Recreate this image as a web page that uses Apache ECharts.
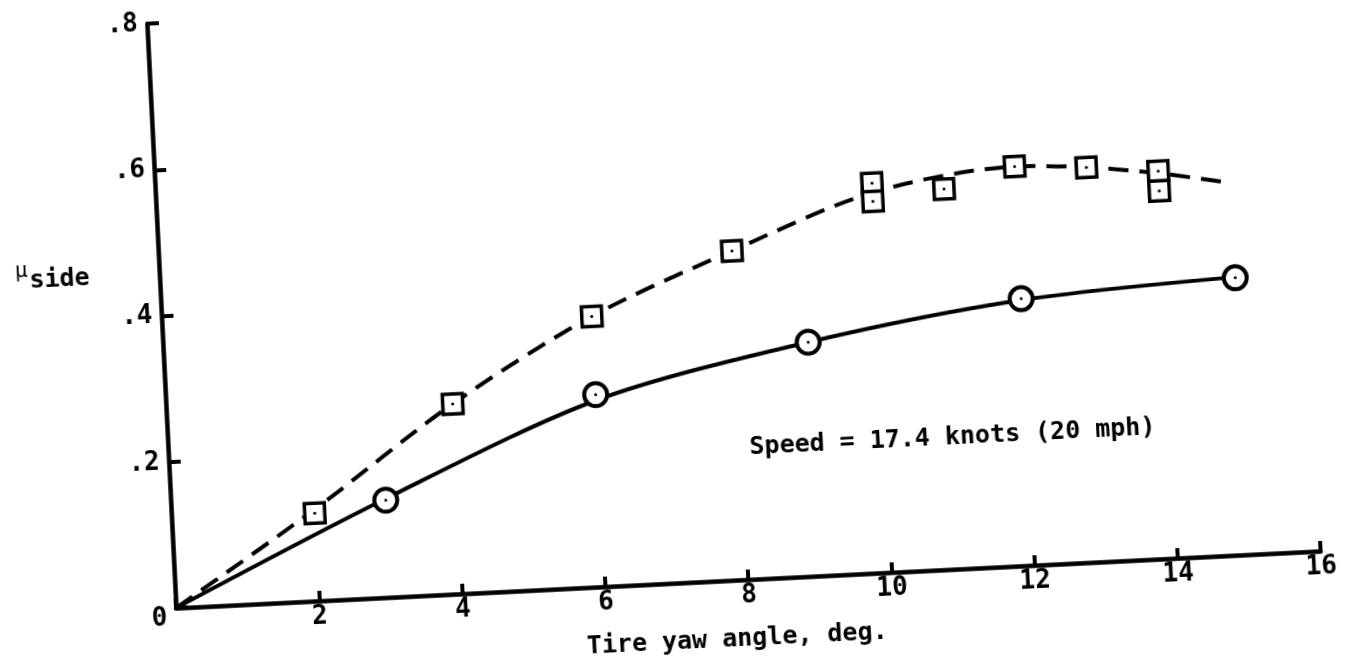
<!DOCTYPE html>
<html>
<head>
<meta charset="utf-8">
<script src="https://cdn.jsdelivr.net/npm/echarts/dist/echarts.min.js"></script>
<style>
html,body{margin:0;padding:0;background:#fff;overflow:hidden;width:1352px;height:666px;}
/* the scanned figure is tilted a bit, so the whole chart is turned round its origin */
#chart{position:absolute;left:0;top:0;width:1400px;height:740px;transform-origin:176px 608px;transform:rotate(-2.85deg);}
</style>
</head>
<body>
<div id="chart"></div>
<script>
// test points, squares (dashed fairing)
var squareX = [2, 4, 6, 8, 10, 10, 11, 12, 13, 14, 14];
var squareY = [0.12, 0.26, 0.37, 0.45, 0.533, 0.508, 0.52, 0.546, 0.54, 0.53, 0.503];
// test points, circles (solid fairing)
var circleX = [3, 6, 9, 12, 15];
var circleY = [0.133, 0.263, 0.32, 0.365, 0.379];
// faired curves
var dashX = [0, 2, 4, 6, 8, 10, 12, 13, 14, 15];
var dashY = [0, 0.125, 0.26, 0.37, 0.45, 0.52, 0.546, 0.54, 0.527, 0.509];
var solidX = [0, 3, 6, 9, 12, 15];
var solidY = [0, 0.135, 0.255, 0.32, 0.363, 0.38];
// axes
var xMin = 0, xMax = 16, xStep = 2;
var yMin = 0, yMax = 0.8, yStep = 0.2;

function pairs(xs, ys){
  var out = [];
  for (var i = 0; i < xs.length; i++) out.push([xs[i], ys[i]]);
  return out;
}

var FONT = '"DejaVu Sans Mono", monospace';
var myChart = echarts.init(document.getElementById('chart'));
myChart.setOption({
  animation: false,
  backgroundColor: '#fff',
  grid: { left: 176, top: 23, width: 1146, height: 585 },
  xAxis: {
    type: 'value', min: xMin, max: xMax, interval: xStep,
    axisLine: { lineStyle: { color: '#000', width: 4.5 } },
    axisTick: { inside: true, length: 10, lineStyle: { color: '#000', width: 4 } },
    splitLine: { show: false },
    axisLabel: {
      color: '#000', fontFamily: FONT, fontWeight: 'bold', fontSize: 26, margin: 3,
      formatter: function(v){ return v === 0 ? '' : String(v); }
    }
  },
  yAxis: {
    type: 'value', min: yMin, max: yMax, interval: yStep,
    axisLine: { lineStyle: { color: '#000', width: 4.5 } },
    axisTick: { inside: true, length: 12, lineStyle: { color: '#000', width: 4 } },
    splitLine: { show: false },
    axisLabel: {
      color: '#000', fontFamily: FONT, fontWeight: 'bold', fontSize: 26, margin: 9,
      formatter: function(v){
        if (v === 0) return '{z|0}';
        return String(v.toFixed(1)).replace('0.', '.');
      },
      rich: { z: { fontFamily: FONT, fontWeight: 'bold', fontSize: 26, color: '#000', padding: [20, 0, 0, 0] } }
    }
  },
  graphic: [
    { type: 'text', x: 38, y: 265, style: { text: 'μ', font: '21px ' + FONT, fill: '#000', align: 'center', verticalAlign: 'middle' } },
    { type: 'text', x: 76, y: 274, style: { text: 'side', font: 'bold 25px ' + FONT, fill: '#000', align: 'center', verticalAlign: 'middle' } },
    { type: 'text', x: 735, y: 667, style: { text: 'Tire yaw angle, deg.', font: 'bold 25px ' + FONT, fill: '#000', align: 'center', verticalAlign: 'middle' } },
    { type: 'text', x: 960, y: 476, style: { text: 'Speed = 17.4 knots (20 mph)', font: 'bold 25px ' + FONT, fill: '#000', align: 'center', verticalAlign: 'middle' } }
  ],
  series: [
    {
      name: 'dashed', type: 'line', data: pairs(dashX, dashY),
      showSymbol: false, smooth: 0.3, z: 2,
      lineStyle: { color: '#000', width: 4, type: [20, 11] }
    },
    {
      name: 'solid', type: 'line', data: pairs(solidX, solidY),
      showSymbol: false, smooth: 0.3, z: 2,
      lineStyle: { color: '#000', width: 4 }
    },
    {
      name: 'squares', type: 'scatter', data: pairs(squareX, squareY),
      symbol: 'rect', symbolSize: 20, z: 3,
      itemStyle: { color: '#fff', borderColor: '#000', borderWidth: 3.5, opacity: 1 }
    },
    {
      name: 'circles', type: 'scatter', data: pairs(circleX, circleY),
      symbol: 'circle', symbolSize: 23, z: 3,
      itemStyle: { color: '#fff', borderColor: '#000', borderWidth: 4, opacity: 1 }
    },
    {
      name: 'dots', type: 'scatter', data: pairs(squareX, squareY).concat(pairs(circleX, circleY)),
      symbol: 'circle', symbolSize: 3, z: 4,
      itemStyle: { color: '#000', opacity: 1 }
    }
  ]
});
</script>
</body>
</html>
